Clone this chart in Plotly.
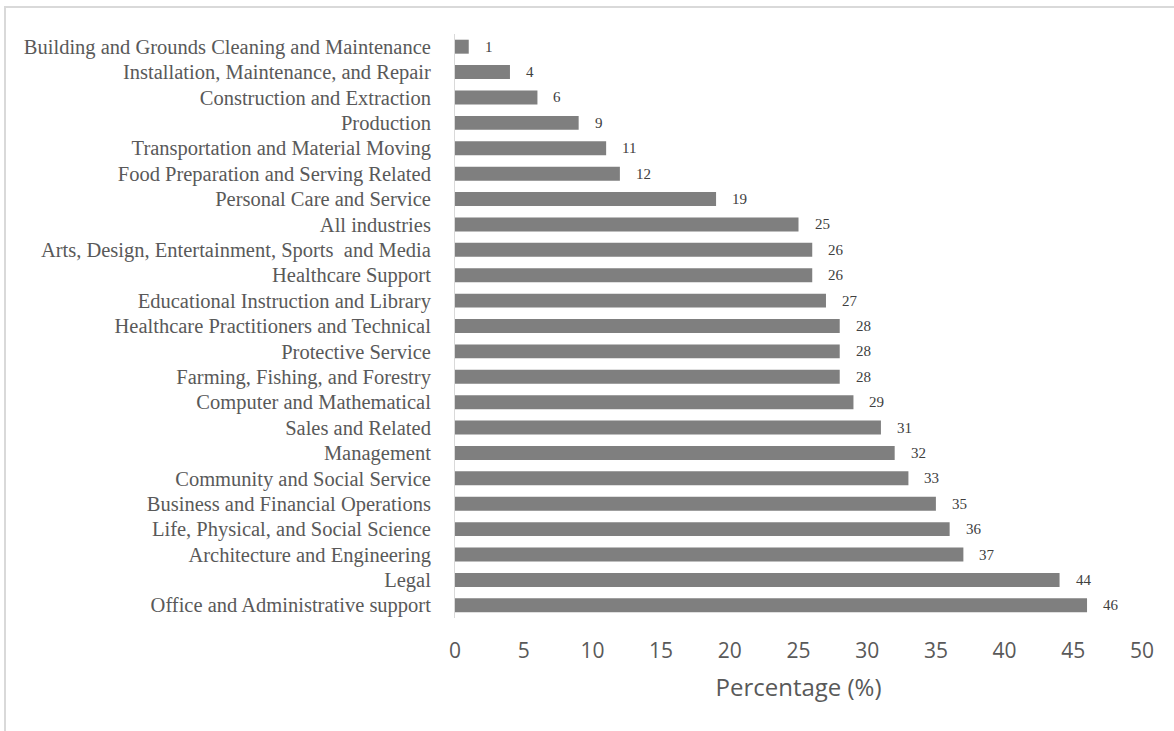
import plotly.graph_objects as go

categories = [
    "Building and Grounds Cleaning and Maintenance",
    "Installation, Maintenance, and Repair",
    "Construction and Extraction",
    "Production",
    "Transportation and Material Moving",
    "Food Preparation and Serving Related",
    "Personal Care and Service",
    "All industries",
    "Arts, Design, Entertainment, Sports  and Media",
    "Healthcare Support",
    "Educational Instruction and Library",
    "Healthcare Practitioners and Technical",
    "Protective Service",
    "Farming, Fishing, and Forestry",
    "Computer and Mathematical",
    "Sales and Related",
    "Management",
    "Community and Social Service",
    "Business and Financial Operations",
    "Life, Physical, and Social Science",
    "Architecture and Engineering",
    "Legal",
    "Office and Administrative support",
]
values = [1, 4, 6, 9, 11, 12, 19, 25, 26, 26, 27, 28, 28, 28, 29, 31, 32, 33, 35, 36, 37, 44, 46]
x_ticks = [0, 5, 10, 15, 20, 25, 30, 35, 40, 45, 50]

fig = go.Figure()
fig.add_trace(go.Bar(
    x=values, y=categories, orientation="h",
    marker=dict(color="#7f7f7f", line=dict(width=0)),
    width=0.55, hoverinfo="x+y",
))

for c, v in zip(categories, values):
    fig.add_annotation(
        x=v, y=c, text=str(v), showarrow=False, xanchor="left", xshift=14,
        font=dict(family="Liberation Serif", size=15, color="#404040"),
    )

fig.update_layout(
    width=1174, height=731,
    margin=dict(l=455, r=32, t=34, b=113),
    paper_bgcolor="white", plot_bgcolor="white",
    showlegend=False,
    xaxis=dict(
        range=[0, 50], tickvals=x_ticks, showgrid=False, zeroline=False,
        showline=False, ticks="", ticklabelstandoff=18,
        tickfont=dict(family="Open Sans", size=21, color="#595959"),
        title=dict(text="Percentage (%)", font=dict(family="Open Sans", size=24, color="#595959"), standoff=16),
    ),
    yaxis=dict(
        autorange="reversed", showgrid=False, zeroline=False,
        showline=True, linecolor="#d9d9d9", linewidth=1,
        ticks="", ticklabelstandoff=19,
        tickfont=dict(family="Liberation Serif", size=20.5, color="#595959"),
    ),
    shapes=[dict(
        type="rect", xref="paper", yref="paper",
        x0=-455/687 + 5/687, x1=1 + 32/687 + 2/687, y0=-113/584 - 2/584, y1=1 + 27/584,
        line=dict(color="#d9d9d9", width=2), fillcolor="rgba(0,0,0,0)", layer="below",
    )],
)

fig.write_html("out.html")
